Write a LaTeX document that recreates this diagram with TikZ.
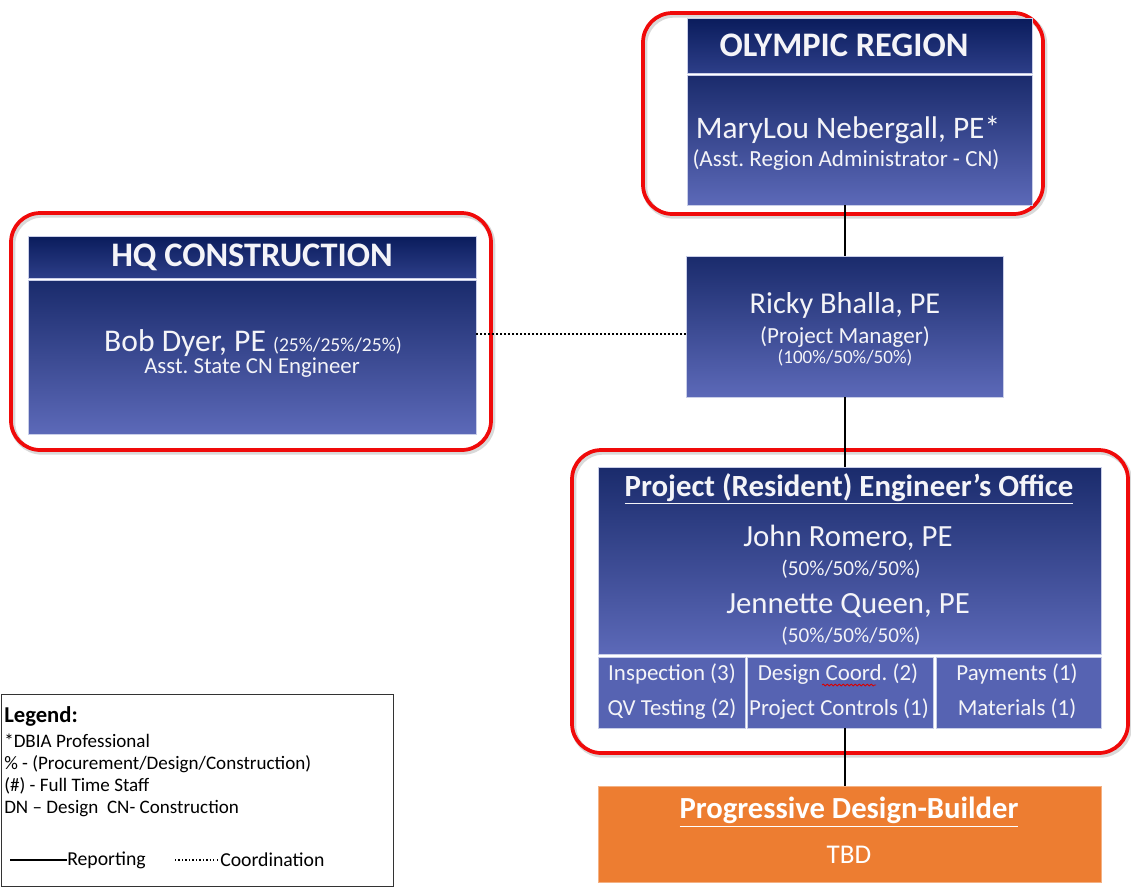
\documentclass[tikz,border=0pt]{standalone}
\usepackage{fontspec}
\setmainfont{Carlito}
\usetikzlibrary{fit,decorations.pathmorphing}
\definecolor{hdrtop}{HTML}{0A1C5C}
\definecolor{hdrbot}{HTML}{2D3E88}
\definecolor{bodytop}{HTML}{1A2B6C}
\definecolor{bodybot}{HTML}{5C69B8}
\definecolor{subc}{HTML}{5663B2}
\definecolor{edgec}{HTML}{C9CEE8}
\definecolor{orangec}{HTML}{ED7D31}
\definecolor{framered}{HTML}{F00A0A}
\definecolor{txtc}{HTML}{F4F4F8}
\newcommand{\fs}[1]{\fontsize{#1}{#1}\selectfont}
\frenchspacing
\begin{document}
\begin{tikzpicture}[x=0.75pt,y=-0.75pt,
  redframe/.style={draw=framered, line width=2.8pt, rounded corners=22pt, inner sep=0pt,
    preaction={draw=black!15, line width=4pt, transform canvas={xshift=1.2pt, yshift=-1.5pt}}},
  hdrbox/.style={top color=hdrtop, bottom color=hdrbot, draw=edgec, line width=0.5pt, inner sep=0pt},
  bodybox/.style={top color=bodytop, bottom color=bodybot, draw=edgec, line width=0.5pt, inner sep=0pt},
  subbox/.style={fill=subc, draw=edgec, line width=0.5pt, inner sep=0pt},
  orangebox/.style={fill=orangec, draw=orangec!60!white, line width=0.5pt, inner sep=0pt},
  legendbox/.style={draw=black!80, line width=0.7pt, inner sep=0pt},
  txt/.style={text=txtc, inner sep=0pt, anchor=center},
  lg/.style={text=black, inner sep=0pt, anchor=west, font=\fs{14.3}},
  conn/.style={draw=black, line width=1.4pt},
  coordline/.style={draw=black, line width=1.3pt, dash pattern=on 1.3pt off 1.7pt}
]
\useasboundingbox (0,0) rectangle (1131,890);

% ---------- red frames ----------
\node[redframe, fit={(643,13) (1043,214)}] (olyframe) {};
\node[redframe, fit={(11,213) (491,450)}] (hqframe) {};
\node[redframe, fit={(572,450) (1128,753)}] (peframe) {};

% ---------- Olympic region ----------
\node[hdrbox, fit={(687,18) (1032,73)}] (olyhdr) {};
\node[bodybox, fit={(687,75) (1032,205)}] (olybody) {};
\node[txt, font=\fs{25.8}\bfseries] (olyt) at (844,45) {OLYMPIC REGION};
\node[txt, font=\fs{23.5}] (olyn) at (848,130) {MaryLou Nebergall, PE*};
\node[txt, font=\fs{17.3}] (olyr) at (846,160) {(Asst. Region Administrator - CN)};

% ---------- Ricky ----------
\node[bodybox, fit={(686,256) (1003,397)}] (ricky) {};
\node[txt, font=\fs{22.7}] (rickyn) at (845,305) {Ricky Bhalla, PE};
\node[txt, font=\fs{17.3}] (rickyr) at (845,337) {(Project Manager)};
\node[txt, font=\fs{14.3}] (rickyp) at (845,358) {(100\%/50\%/50\%)};

% ---------- HQ ----------
\node[hdrbox, fit={(28,236) (476,278)}] (hqhdr) {};
\node[bodybox, fit={(28,280) (476,434)}] (hqbody) {};
\node[txt, font=\fs{25.8}\bfseries] (hqt) at (252,257) {HQ CONSTRUCTION};
\node[txt, font=\fs{23.7}] (hqn) at (253,343) {Bob Dyer, PE {\fs{14.7}(25\%/25\%/25\%)}};
\node[txt, font=\fs{17.1}] (hqr) at (252,368) {Asst. State CN Engineer};

% ---------- Project engineer's office ----------
\node[bodybox, fit={(598,467) (1101,654)}] (pemain) {};
\node[txt, font=\fs{23.1}\bfseries] (pet) at (849,489) {\underline{Project (Resident) Engineer’s Office}};
\node[txt, font=\fs{23.1}] (pe1) at (848,538) {John Romero, PE};
\node[txt, font=\fs{15.9}] (pe1p) at (851,569) {(50\%/50\%/50\%)};
\node[txt, font=\fs{23.1}] (pe2) at (848,606) {Jennette Queen, PE};
\node[txt, font=\fs{15.9}] (pe2p) at (851,636) {(50\%/50\%/50\%)};

\node[subbox, fit={(598,657) (745,728)}] (suba) {};
\node[subbox, fit={(747,657) (933,728)}] (subb) {};
\node[subbox, fit={(936,657) (1101,728)}] (subc) {};
\node[txt, font=\fs{17.2}] (sa1) at (672,674) {Inspection (3)};
\node[txt, font=\fs{17.2}] (sa2) at (672,709) {QV Testing (2)};
\node[txt, font=\fs{17.2}] (sb1) at (838,674) {Design Coord. (2)};
\node[txt, font=\fs{17.2}] (sb2) at (839,709) {Project Controls (1)};
\node[txt, font=\fs{17.2}] (sc1) at (1017,674) {Payments (1)};
\node[txt, font=\fs{17.2}] (sc2) at (1017,709) {Materials (1)};
\draw[red!85!black, line width=0.6pt, decorate, decoration={snake, amplitude=0.7pt, segment length=3pt}] (822,685) -- (876,685);

% ---------- Orange ----------
\node[orangebox, fit={(598,786) (1101,882)}] (orange) {};
\node[txt, font=\fs{23}\bfseries, text=white] (ort) at (849,812) {\underline{Progressive Design-Builder}};
\node[txt, font=\fs{20.3}, text=white] (ortbd) at (849,855) {TBD};

% ---------- connectors ----------
\coordinate (spine) at (845,0);
\coordinate (dotrow) at (0,334);
\draw[conn] (olybody.south -| spine) -- (ricky.north -| spine);
\draw[conn] (ricky.south -| spine) -- (pemain.north -| spine);
\draw[conn] (subb.south -| spine) -- (orange.north -| spine);
\draw[coordline] (hqbody.east |- dotrow) -- (ricky.west |- dotrow);

% ---------- legend ----------
\node[legendbox, fit={(1,694) (393,886)}] (legend) {};
\node[lg, font=\fs{17}\bfseries] (lg0) at (4,716) {Legend:};
\node[lg] (lg1) at (4,741) {*DBIA Professional};
\node[lg] (lg2) at (4,764) {\% - (Procurement/Design/Construction)};
\node[lg] (lg3) at (4,786) {(\#) - Full Time Staff};
\node[lg] (lg4) at (4,809) {DN – Design\ \ CN- Construction};
\node[lg, font=\fs{14.8}] (lgrep) at (67,860) {Reporting};
\node[lg, font=\fs{14.8}] (lgcoo) at (220,860) {Coordination};
\coordinate (repstart) at (10,860);
\coordinate (coostart) at (175,860);
\draw[black, line width=1.2pt] (repstart) -- (lgrep.west |- repstart);
\draw[black, line width=1.1pt, dash pattern=on 1pt off 1.6pt] (coostart) -- (lgcoo.west |- coostart);
\end{tikzpicture}
\end{document}
